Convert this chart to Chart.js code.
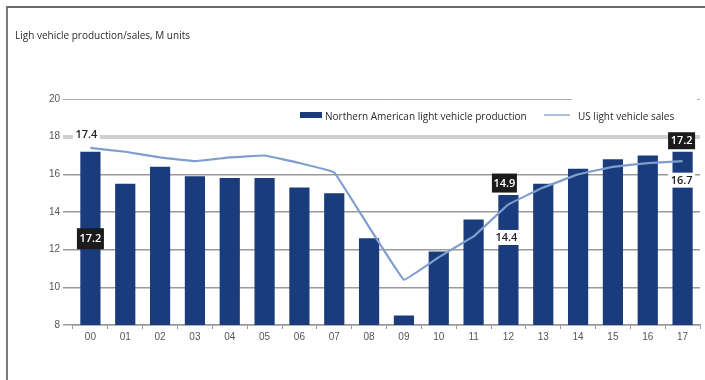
<!DOCTYPE html>
<html>
<head>
<meta charset="utf-8">
<title>Light vehicle production / sales</title>
<script src="https://cdn.jsdelivr.net/npm/chart.js@4"></script>
<style>
  html, body { margin: 0; padding: 0; background: #fff; }
  .wrap { position: relative; width: 705px; height: 380px; overflow: hidden; font-family: "Open Sans", sans-serif; }
  .frame { position: absolute; left: 6px; top: 6px; width: 720px; height: 400px; border-left: 2px solid #7a7a7a; border-top: 2px solid #6a6a6a; }
  .title { position: absolute; left: 15px; top: 28px; font-size: 10px; color: #2a2a2a; }
  canvas { position: absolute; left: 0; top: 0; }
  .legend-box { position: absolute; background: #fff; height: 30px; }
  .legend-box span { position: absolute; top: 9px; font-size: 10px; color: #2a2a2a; white-space: nowrap; }
  .legend-box i { position: absolute; display: block; }
</style>
</head>
<body>
<div class="wrap">
  <canvas id="vehicleChart" width="705" height="380"></canvas>
  <div class="frame"></div>
  <div class="title">Ligh vehicle production/sales, M units</div>
  <div class="legend-box" style="left:293px; top:100px; width:252px;">
    <i id="legendBar" style="left:7px; top:12px; width:22px; height:6px;"></i>
    <span id="legendBarText" style="left:32px;"></span>
  </div>
  <div class="legend-box" style="left:572px; top:96px; width:125px; height:34px;">
    <i id="legendLine" style="left:-28px; top:18px; width:26px; height:2px;"></i>
    <span id="legendLineText" style="left:6px; top:13px;"></span>
  </div>
</div>
<script>
  "use strict";

  const years = ["00", "01", "02", "03", "04", "05", "06", "07", "08",
    "09", "10", "11", "12", "13", "14", "15", "16", "17"];
  const production = [17.2, 15.5, 16.4, 15.9, 15.8, 15.8, 15.3, 15.0, 12.6,
    8.5, 11.9, 13.6, 14.9, 15.5, 16.3, 16.8, 17.0, 17.2];
  const sales = [17.4, 17.2, 16.9, 16.7, 16.9, 17.0, 16.6, 16.1, 13.2,
    10.4, 11.6, 12.7, 14.4, 15.3, 16.0, 16.4, 16.6, 16.7];
  const yTicks = [8, 10, 12, 14, 16, 18, 20];

  const barColor = "#1b3c7c";
  const lineColor = "#7f9ece";

  // value boxes: dark ones sit on bars, white ones on the sales line
  const calloutPlugin = {
    id: "callouts",
    afterDatasetsDraw(chart, args, opts) {
      const ctx = chart.ctx;
      opts.items.forEach(function (it) {
        const el = chart.getDatasetMeta(it.set).data[it.index];
        const value = chart.data.datasets[it.set].data[it.index];
        const x = el.x + it.dx;
        const y = el.y + it.dy;
        ctx.save();
        ctx.fillStyle = it.dark ? "#1b1b1b" : "#ffffff";
        ctx.fillRect(x - it.w / 2, y - it.h / 2, it.w, it.h);
        ctx.font = "600 11px 'Open Sans'";
        ctx.textAlign = "center";
        ctx.textBaseline = "middle";
        ctx.fillStyle = it.dark ? "#ffffff" : "#222222";
        ctx.fillText(value.toFixed(1), x, y + 0.5);
        ctx.restore();
      });
    },
  };

  function gridColor(ctx) {
    const v = ctx.tick && ctx.tick.value;
    if (v === 18) return "#d0d0d0";
    if (v === 20) return "#a8a8a8";
    return "#9a9a9a";
  }

  function gridWidth(ctx) {
    const v = ctx.tick && ctx.tick.value;
    if (v === 18) return 4;
    if (v === 20) return 1;
    return 1.5;
  }

  const chart = new Chart(document.getElementById("vehicleChart"), {
    data: {
      labels: years,
      datasets: [
        {
          type: "line",
          label: "US light vehicle sales",
          data: sales,
          borderColor: lineColor,
          borderWidth: 2.2,
          pointRadius: 0,
          tension: 0.05,
          order: 0,
        },
        {
          type: "bar",
          label: "Northern American light vehicle production",
          data: production,
          backgroundColor: barColor,
          barPercentage: 0.58,
          categoryPercentage: 1,
          order: 1,
        },
      ],
    },
    options: {
      responsive: false,
      animation: false,
      layout: { padding: { top: 99, right: 5, left: 0, bottom: 0 } },
      plugins: {
        legend: { display: false },
        tooltip: { enabled: false },
        callouts: {
          items: [
            { set: 0, index: 0, dark: false, dx: -4, dy: -14, w: 27, h: 15 },
            { set: 1, index: 0, dark: true, dx: 0, dy: 87, w: 27, h: 21 },
            { set: 1, index: 12, dark: true, dx: -4, dy: -12, w: 25, h: 19 },
            { set: 0, index: 12, dark: false, dx: -2, dy: 33, w: 27, h: 15 },
            { set: 1, index: 17, dark: true, dx: -1, dy: -11, w: 27, h: 17 },
            { set: 0, index: 17, dark: false, dx: -1, dy: 19, w: 27, h: 15 },
          ],
        },
      },
      scales: {
        x: {
          offset: true,
          grid: {
            offset: true,
            drawOnChartArea: false,
            tickLength: 4,
            color: "#9a9a9a",
          },
          border: { color: "#9a9a9a", width: 1.5 },
          ticks: {
            color: "#555",
            font: { size: 10, family: "Arial" },
            padding: 2,
            maxRotation: 0,
          },
          afterFit: (scale) => {
            scale.height = 55;
          },
        },
        y: {
          min: 8,
          max: 20,
          afterBuildTicks: (scale) => {
            scale.ticks = yTicks.map((v) => ({ value: v }));
          },
          grid: {
            color: gridColor,
            lineWidth: gridWidth,
            tickLength: 10,
          },
          border: { display: false },
          ticks: {
            color: "#555",
            font: { size: 10, family: "Arial" },
            padding: 3,
          },
          afterFit: (scale) => {
            scale.width = 73;
          },
        },
      },
    },
    plugins: [calloutPlugin],
  });

  // legend built from the datasets
  const barSet = chart.data.datasets[1];
  const lineSet = chart.data.datasets[0];
  document.getElementById("legendBar").style.background = barSet.backgroundColor;
  document.getElementById("legendBarText").textContent = barSet.label;
  document.getElementById("legendLine").style.background = "#a9bde0";
  document.getElementById("legendLineText").textContent = lineSet.label;
</script>
</body>
</html>
